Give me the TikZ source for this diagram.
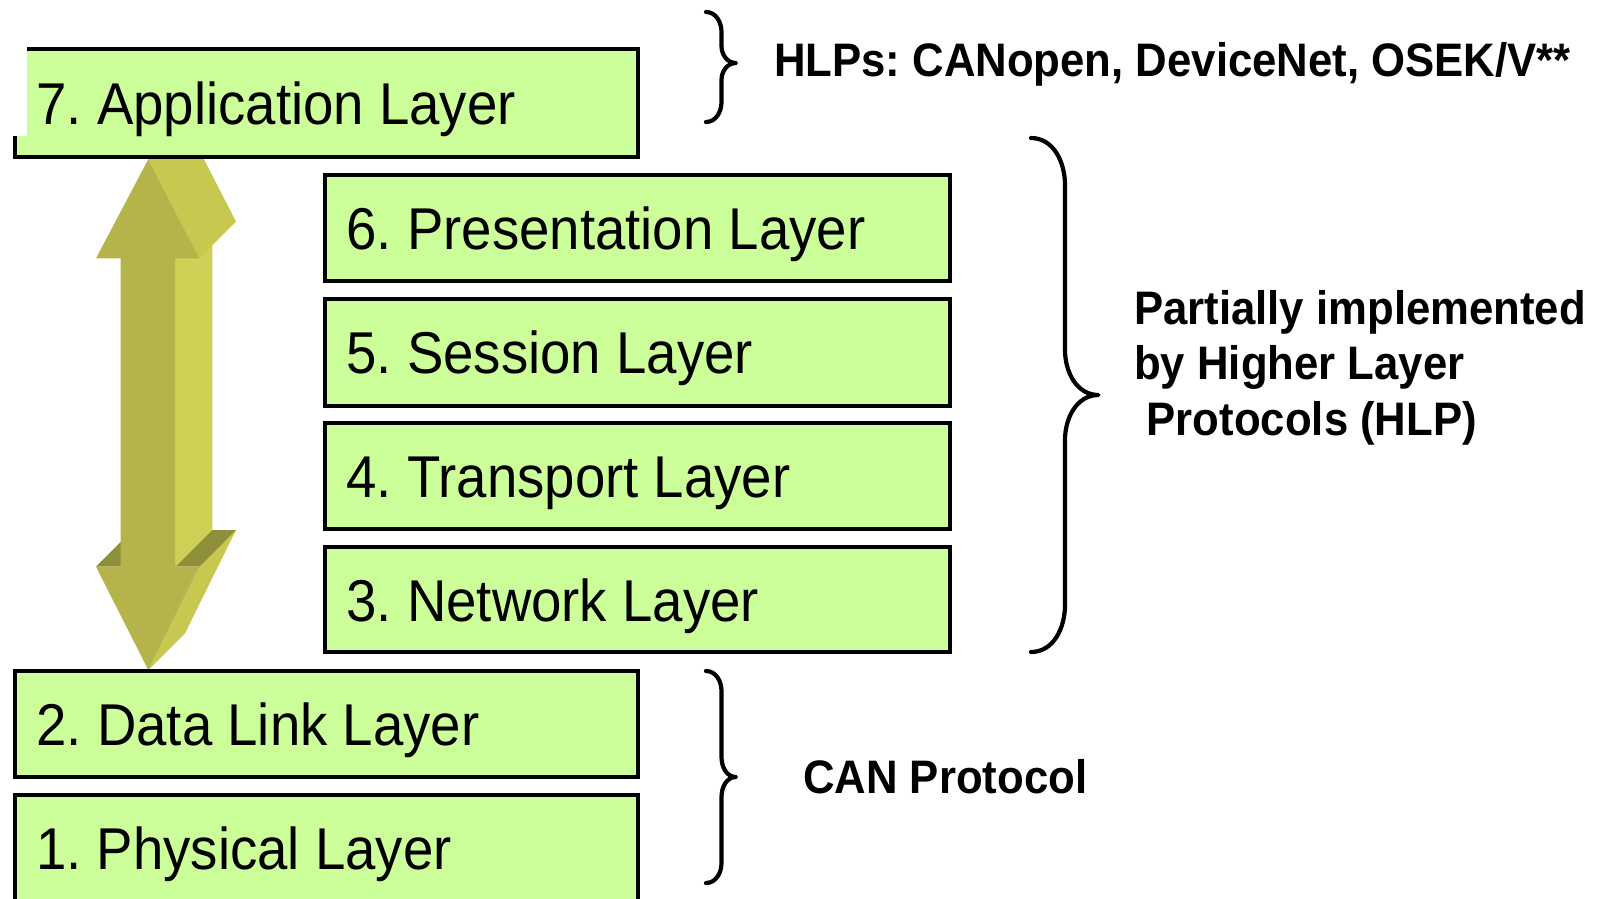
\documentclass[tikz,border=0pt]{standalone}
\usepackage{fontspec}
\setmainfont{Liberation Sans}
\newfontfamily\layerfont[FakeStretch=0.925]{Liberation Sans}
\newfontfamily\notefont[FakeStretch=0.93]{Liberation Sans Bold}
\usetikzlibrary{calc}
\definecolor{boxgreen}{RGB}{204,255,153}
\definecolor{arrowfrontc}{RGB}{181,180,74}
\definecolor{arrowsidec}{RGB}{206,209,86}
\definecolor{arrowheadsidec}{RGB}{199,200,80}
\definecolor{arrowdarkc}{RGB}{142,143,58}
\frenchspacing
\begin{document}
\begin{tikzpicture}[x=1pt,y=-1pt,
  layerbox/.style={draw=black, line width=4pt, fill=boxgreen, minimum width=622.7pt,
    anchor=north west, inner sep=0pt, outer sep=0pt},
  layertext/.style={font=\layerfont\fontsize{59}{66}\selectfont, anchor=base west, inner sep=0pt},
  notetext/.style={font=\notefont\fontsize{47}{54}\selectfont, anchor=base west, inner sep=0pt},
  bracestroke/.style={draw=black, line width=4.2pt, line cap=round, line join=round},
  arrowfront/.style={fill=arrowfrontc},
  arrowside/.style={fill=arrowsidec},
  arrowheadside/.style={fill=arrowheadsidec},
  arrowdark/.style={fill=arrowdarkc}]
\useasboundingbox (0,0) rectangle (1598,898);
\clip (0,0) rectangle (1598,898);
\fill[white] (0,0) rectangle (1598,898);

% 3D double arrow
\fill[arrowside] (175.7,258.3) -- (212.4,221.6) -- (212.4,530) -- (175.7,566.7) -- cycle;
\fill[arrowheadside] (148.3,159.3) -- (199.3,258.3) -- (236,221.6) -- (185,122.6) -- cycle;
\fill[arrowheadside] (199.3,566.7) -- (236,530) -- (185,633.3) -- (148.3,670) -- cycle;
\fill[arrowdark] (175.7,566.7) -- (199.3,566.7) -- (236,530) -- (212.4,530) -- cycle;
\fill[arrowdark] (96,566.7) -- (132.7,530) -- (157.4,530) -- (120.7,566.7) -- cycle;
\fill[arrowfront] (148.3,159.3) -- (199.3,258.3) -- (175.7,258.3) -- (175.7,566.7)
  -- (199.3,566.7) -- (148.3,670) -- (96,566.7) -- (120.7,566.7) -- (120.7,258.3)
  -- (96,258.3) -- cycle;

% layers
\node[layerbox, minimum height=108.5pt] (l7) at (15.3,48.5) {};
\fill[white] (0,40) rectangle (26.7,136);
\node[layerbox, minimum width=624.7pt, minimum height=106pt] (l6) at (325.3,175.3) {};
\node[layerbox, minimum width=624.7pt, minimum height=107.3pt] (l5) at (325.3,298.7) {};
\node[layerbox, minimum width=624.7pt, minimum height=106.3pt] (l4) at (325.3,423) {};
\node[layerbox, minimum width=624.7pt, minimum height=105pt] (l3) at (325.3,547) {};
\node[layerbox, minimum height=105.4pt] (l2) at (15.3,671.3) {};
\node[layerbox, minimum height=120pt] (l1) at (15.3,794.7) {};

\node[layertext] (t7) at ($(l7.west)+(21,21.5)$) {7. Application Layer};
\node[layertext] (t6) at ($(l6.west)+(21,21.5)$) {6. Presentation Layer};
\node[layertext] (t5) at ($(l5.west)+(21,21.5)$) {5. Session Layer};
\node[layertext] (t4) at ($(l4.west)+(21,21.5)$) {4. Transport Layer};
\node[layertext] (t3) at ($(l3.west)+(21,21.5)$) {3. Network Layer};
\node[layertext] (t2) at ($(l2.west)+(21,21.5)$) {2. Data Link Layer};
\node[layertext] (t1) at (36,869) {1. Physical Layer};

% braces
\draw[bracestroke] (706,12) to[out=0,in=90] (721.5,32) -- (721.5,46)
  to[out=-90,in=180] (736,63) to[out=180,in=90] (721.5,80) -- (721.5,102)
  to[out=-90,in=0] (706,122);
\draw[bracestroke] (1031,138) to[out=0,in=90] (1065,185) -- (1065,350)
  to[out=-90,in=180] (1098.5,395) to[out=180,in=90] (1065,440) -- (1065,605)
  to[out=-90,in=0] (1031,652);
\draw[bracestroke] (706,671) to[out=0,in=90] (721.5,691) -- (721.5,757)
  to[out=-90,in=180] (736,777) to[out=180,in=90] (721.5,797) -- (721.5,863)
  to[out=-90,in=0] (706,883);

% notes
\node[notetext] (hlp) at (774,76.4) {HLPs: CANopen, DeviceNet, OSEK/V**};
\node[notetext] (p1) at (1134,324) {Partially implemented};
\node[notetext] (p2) at (1134,379.5) {by Higher Layer};
\node[notetext] (p3) at (1146.5,435.5) {Protocols (HLP)};
\node[notetext] (can) at (803,793) {CAN Protocol};
\end{tikzpicture}
\end{document}
